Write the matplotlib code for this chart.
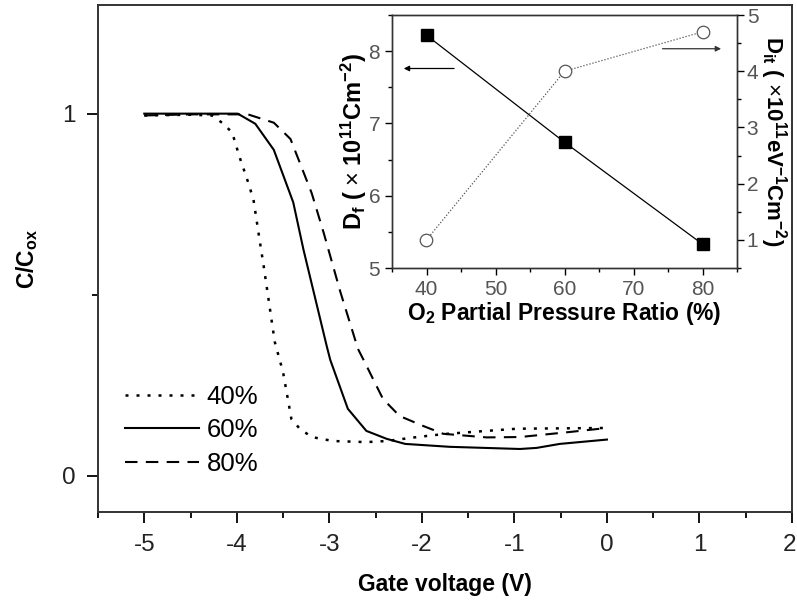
import matplotlib
matplotlib.use("Agg")
import matplotlib.pyplot as plt
from matplotlib import font_manager
from matplotlib.ticker import MultipleLocator, FixedLocator, FuncFormatter
from matplotlib.transforms import blended_transform_factory, offset_copy

names = {f.name for f in font_manager.fontManager.ttflist}
fam = 'Liberation Sans Narrow' if 'Liberation Sans Narrow' in names else 'Liberation Sans'
plt.rcParams['font.family'] = [fam, 'DejaVu Sans']
plt.rcParams['mathtext.fontset'] = 'custom'
plt.rcParams['mathtext.rm'] = fam
plt.rcParams['mathtext.bf'] = fam + ':bold'
plt.rcParams['mathtext.it'] = fam + ':italic'

# ---- main C-V data ----
v40 = [-5.0, -4.5, -4.27, -4.16, -4.05, -3.97, -3.89, -3.82, -3.75, -3.71, -3.59, -3.50, -3.41, -3.32,
       -3.19, -2.96, -2.6, -2.38, -2.05, -1.77, -1.3, -0.97, 0.0]
c40 = [0.995, 0.997, 0.995, 0.975, 0.948, 0.88, 0.82, 0.763, 0.645, 0.58, 0.37, 0.286, 0.157, 0.13,
       0.107, 0.096, 0.093, 0.096, 0.107, 0.115, 0.124, 0.13, 0.132]
v60 = [-5.0, -4.5, -3.99, -3.8, -3.6, -3.39, -3.28, -3.03, -2.99, -2.8, -2.6, -2.38, -2.18, -1.7,
       -0.94, -0.76, -0.51, 0.0]
c60 = [1.0, 1.0, 1.0, 0.972, 0.90, 0.755, 0.625, 0.36, 0.32, 0.185, 0.124, 0.102, 0.088, 0.08,
       0.074, 0.077, 0.088, 0.1]
v80 = [-5.0, -4.5, -3.88, -3.6, -3.42, -3.32, -3.19, -3.06, -2.88, -2.69, -2.63, -2.42, -2.24, -1.99,
       -1.77, -1.3, -0.94, -0.4, 0.0]
c80 = [0.995, 0.998, 0.998, 0.975, 0.93, 0.865, 0.78, 0.67, 0.507, 0.35, 0.32, 0.212, 0.165, 0.138,
       0.116, 0.106, 0.107, 0.121, 0.132]
legend_labels = ['40%', '60%', '80%']

# ---- inset data ----
o2 = [40, 60, 80]
df_vals = [8.22, 6.74, 5.33]
dit_vals = [1.0, 4.0, 4.7]

fig = plt.figure(figsize=(7.97, 6.02), dpi=100)
ax = fig.add_axes([98/797, 1-512/602, (792-98)/797, (512-5)/602])

ax.plot(v40, c40, color='black', lw=1.8, linestyle=(0, (1.2, 3.2)), label=legend_labels[0])
ax.plot(v60, c60, color='black', lw=1.5, linestyle='-', label=legend_labels[1])
ax.plot(v80, c80, color='black', lw=1.5, linestyle=(0, (6, 4)), label=legend_labels[2])

XMAX = 2.0
ax.set_xlim(-5.5, XMAX)
ax.set_ylim(-0.1, 1.3)
ax.xaxis.set_major_locator(MultipleLocator(1))
ax.xaxis.set_minor_locator(MultipleLocator(0.5))
ax.yaxis.set_major_locator(FixedLocator([0, 1]))
ax.yaxis.set_minor_locator(FixedLocator([0.5]))
ax.tick_params(which='major', direction='out', length=8, width=1.3, labelsize=17.5, labelcolor='#222', pad=8)
ax.tick_params(which='minor', direction='out', length=4, width=1.3)
for sp in ax.spines.values():
    sp.set_linewidth(1.4)
    sp.set_color('#333')
ax.set_xlabel('Gate voltage (V)', fontsize=16.5, fontweight='bold', labelpad=12)
ax.set_ylabel(r'C/C$_{\mathbf{ox}}$', fontsize=16.5, fontweight='bold', labelpad=16)
# the last tick label (at the right edge) is drawn separately, right-aligned so it stays inside the figure
ax.xaxis.set_major_formatter(FuncFormatter(lambda x, p: '' if abs(x - XMAX) < 1e-6 else f'{int(round(x))}'))
edge_tr = offset_copy(blended_transform_factory(ax.transData, ax.transAxes), fig=fig, x=3, y=-16, units='points')
ax.text(XMAX, 0, f'{int(XMAX)}', transform=edge_tr, ha='right', va='top', fontsize=17.5, color='#222')

leg = ax.legend(loc='lower left', bbox_to_anchor=(0.005, 0.025), frameon=False, fontsize=18.5,
                handlelength=2.9, handletextpad=0.3, labelspacing=0.38)

# ---- inset ----
ins = fig.add_axes([392/797, 1-268/602, (737-392)/797, (268-15)/602])
ins.plot(o2, df_vals, color='black', lw=0.9, marker='s', ms=9, mfc='black', mec='black')
ins.set_xlim(35, 85)
ins.set_ylim(5, 8.5)
ins.xaxis.set_major_locator(MultipleLocator(10))
ins.xaxis.set_minor_locator(MultipleLocator(5))
ins.yaxis.set_major_locator(MultipleLocator(1))
ins.yaxis.set_minor_locator(MultipleLocator(0.5))
ins.tick_params(which='major', direction='out', length=5, width=1.0, labelsize=15, labelcolor='#555')
ins.tick_params(which='minor', direction='out', length=3, width=1.0)
ins.set_xlabel(r'O$_{\mathbf{2}}$ Partial Pressure Ratio (%)', fontsize=16.5, fontweight='bold', labelpad=1)
ins.set_ylabel(r'D$_{\mathbf{f}}$ ( $\times$ 10$^{\mathbf{11}}$Cm$^{\mathbf{-2}}$)', fontsize=17,
               fontweight='bold', labelpad=0)

ins2 = ins.twinx()
ins2.plot(o2, dit_vals, color='#555', lw=0.9, linestyle=(0, (1, 1.5)), marker='o', ms=9,
          mfc='white', mec='#555', mew=0.9)
ins2.set_ylim(0.5, 5)
ins2.yaxis.set_major_locator(MultipleLocator(1))
ins2.yaxis.set_minor_locator(MultipleLocator(0.5))
ins2.tick_params(which='major', direction='out', length=5, width=1.0, labelsize=15, labelcolor='#555', pad=2)
ins2.tick_params(which='minor', direction='out', length=3, width=1.0)
ins2.set_ylabel(r'D$_{\mathbf{it}}$ ( $\times$10$^{\mathbf{11}}$eV$^{\mathbf{-1}}$Cm$^{\mathbf{-2}}$)', fontsize=16,
                fontweight='bold', rotation=270, labelpad=22)
for a in (ins, ins2):
    for sp in a.spines.values():
        sp.set_linewidth(1.0)
        sp.set_color('#333')

ins.annotate('', xy=(36.3, 7.76), xytext=(44.4, 7.76),
             arrowprops=dict(arrowstyle='-|>', color='black', lw=0.9, mutation_scale=8))
ins2.annotate('', xy=(83.1, 4.4), xytext=(73.8, 4.4),
              arrowprops=dict(arrowstyle='-|>', color='#333', lw=0.9, mutation_scale=8))

fig.savefig('out.png', dpi=100)
